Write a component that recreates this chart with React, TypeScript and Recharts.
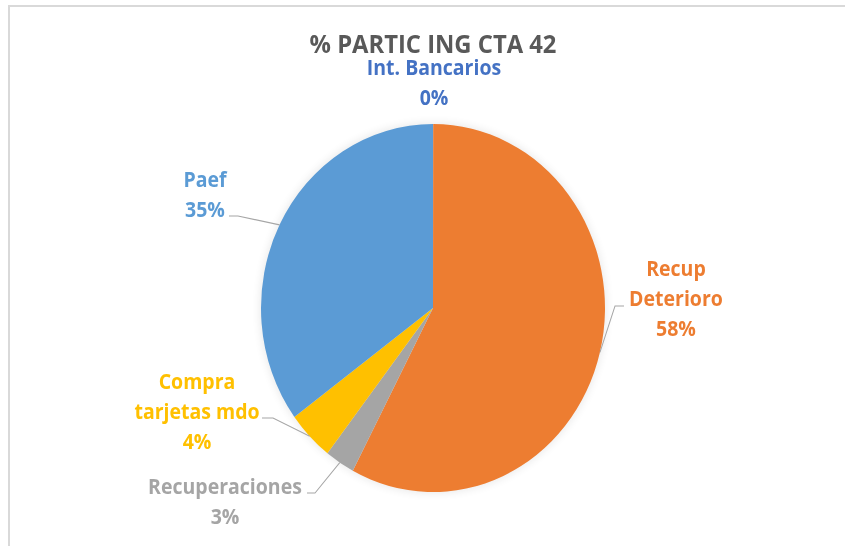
import { PieChart, Pie, Cell } from 'recharts';

const categories = ['Int. Bancarios', 'Recup Deterioro', 'Recuperaciones', 'Compra tarjetas mdo', 'Paef'];
const shares = [0.02, 57.7, 2.8, 4.4, 35.08];
const colors = ['#4472C4', '#ED7D31', '#A5A5A5', '#FFC000', '#5B9BD5'];
const labelLines = [['Int. Bancarios'], ['Recup', 'Deterioro'], ['Recuperaciones'], ['Compra', 'tarjetas mdo'], ['Paef']];

const data = categories.map((name, i) => ({ name, value: shares[i] }));

// the source picture is stretched a bit vertically, so the whole chart gets scaled in y
const K = 1.07;
const W = 845;
const H = 546;
const FONT = "'Open Sans', sans-serif";
const LINE_GAP = 30;

// where each data label sits (text centre x, first baseline) and the leader elbow, page pixels
const labelPos: { x: number; y: number; elbow: number[][] | null }[] = [
  { x: 434, y: 75, elbow: null },
  { x: 676, y: 276, elbow: [[615, 306], [624, 306]] },
  { x: 225, y: 494, elbow: [[315, 493], [307, 493]] },
  { x: 197, y: 389, elbow: [[273, 418], [262, 418]] },
  { x: 205, y: 187, elbow: [[238, 216], [229, 216]] },
];

const RADIAN = Math.PI / 180;

function renderLabel(props: any) {
  const { cx, cy, midAngle, outerRadius, index, percent } = props;
  const pos = labelPos[index];
  const ex = cx + outerRadius * Math.cos(-midAngle * RADIAN);
  const ey = cy + outerRadius * Math.sin(-midAngle * RADIAN);
  const lines = [...labelLines[index], `${Math.round(percent * 100)}%`];
  const pts = pos.elbow ? [[ex, ey], ...pos.elbow.map(p => [p[0], p[1] / K])] : [];
  return (
    <g key={`label-${index}`}>
      {pos.elbow && (
        <polyline points={pts.map(p => p.join(',')).join(' ')} fill="none" stroke="#A6A6A6" strokeWidth={1} />
      )}
      {lines.map((t, i) => (
        <text
          key={i}
          x={pos.x}
          y={(pos.y + i * LINE_GAP) / K}
          textAnchor="middle"
          fill={colors[index]}
          fontFamily={FONT}
          fontWeight={700}
          fontSize={19.5}
        >
          {t}
        </text>
      ))}
    </g>
  );
}

export default function App() {
  return (
    <div style={{ position: 'absolute', left: 0, top: 0, width: W, height: H, overflow: 'hidden', background: '#fff' }}>
      <style>{`.pie-shadow { filter: blur(3px); opacity: 0.3; }`}</style>
      <div
        style={{
          position: 'absolute',
          left: 8,
          top: 5,
          width: W,
          height: H,
          borderLeft: '2px solid #D9D9D9',
          borderTop: '2px solid #D9D9D9',
        }}
      />
      <div style={{ position: 'absolute', left: 0, top: 0, transform: `scaleY(${K})`, transformOrigin: '0 0' }}>
        <svg width={W} height={60} style={{ position: 'absolute', left: 0, top: 0 }}>
          <text x={433} y={53 / K} textAnchor="middle" fill="#595959" fontFamily={FONT} fontWeight={700} fontSize={23.8}>
            % PARTIC ING CTA 42
          </text>
        </svg>
        <PieChart width={W} height={Math.round(H / K)} margin={{ top: 0, right: 0, bottom: 0, left: 0 }}>
          {/* soft shadow under the pie, as Excel draws it */}
          <Pie
            className="pie-shadow"
            data={data}
            dataKey="value"
            cx={433}
            cy={308 / K}
            outerRadius={173}
            startAngle={90}
            endAngle={-270}
            fill="#000"
            stroke="none"
            label={false}
            labelLine={false}
            isAnimationActive={false}
          />
          <Pie
            data={data}
            dataKey="value"
            nameKey="name"
            cx={433}
            cy={308 / K}
            outerRadius={172}
            startAngle={90}
            endAngle={-270}
            stroke="none"
            label={renderLabel}
            labelLine={false}
            isAnimationActive={false}
          >
            {data.map((entry, index) => (
              <Cell key={`cell-${index}`} fill={colors[index]} />
            ))}
          </Pie>
        </PieChart>
      </div>
    </div>
  );
}
